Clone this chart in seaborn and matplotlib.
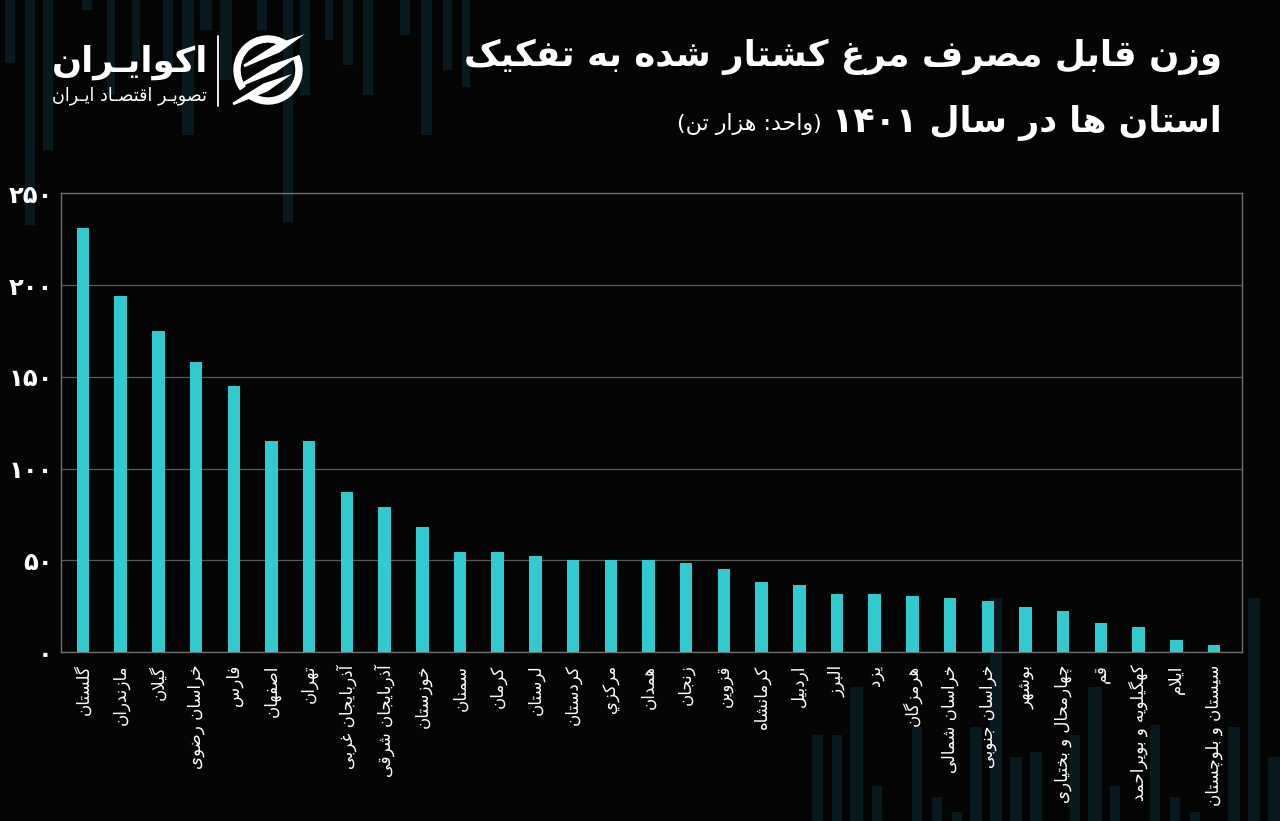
import numpy as np
import pandas as pd
import matplotlib
matplotlib.use("Agg")
import matplotlib.pyplot as plt
import seaborn as sns
from matplotlib.patches import Rectangle, Wedge, Polygon

# ---------------- data ----------------
provinces = ["گلستان", "مازندران", "گیلان", "خراسان رضوی", "فارس", "اصفهان", "تهران",
             "آذربایجان غربی", "آذربایجان شرقی", "خوزستان", "سمنان", "کرمان", "لرستان",
             "کردستان", "مرکزي", "همدان", "زنجان", "قزوین", "کرمانشاه", "اردبیل", "البرز",
             "یزد", "هرمزگان", "خراسان شمالی", "خراسان جنوبی", "بوشهر", "چهارمحال و بختیاری",
             "قم", "کهگیلویه و بویراحمد", "ایلام", "سیستان و بلوچستان"]
values = [231.0, 194.0, 175.0, 158.0, 145.0, 115.3, 115.3, 87.2, 79.3, 68.2, 54.5, 54.5,
          52.3, 50.4, 50.4, 50.4, 48.5, 45.4, 38.4, 36.5, 31.6, 31.6, 30.5, 29.4, 27.6,
          24.6, 22.6, 15.6, 13.6, 6.5, 3.6]
y_ticks = [0, 50, 100, 150, 200, 250]
title_line1 = "وزن قابل مصرف مرغ کشتار شده به تفکیک"
title_line2 = "استان ها در سال ۱۴۰۱"
unit_text = "(واحد: هزار تن)"
brand = "اکوایـران"
brand_sub = "تصویـر اقتصـاد ایـران"

# ---------------- simple Persian shaping (no external libs) ----------------
FORMS = {
    'ء': ('\uFE80', '\uFE80', None, None),
    'آ': ('\uFE81', '\uFE82', None, None),
    'أ': ('\uFE83', '\uFE84', None, None),
    'ؤ': ('\uFE85', '\uFE86', None, None),
    'إ': ('\uFE87', '\uFE88', None, None),
    'ئ': ('\uFE89', '\uFE8A', '\uFE8B', '\uFE8C'),
    'ا': ('\uFE8D', '\uFE8E', None, None),
    'ب': ('\uFE8F', '\uFE90', '\uFE91', '\uFE92'),
    'ة': ('\uFE93', '\uFE94', None, None),
    'ت': ('\uFE95', '\uFE96', '\uFE97', '\uFE98'),
    'ث': ('\uFE99', '\uFE9A', '\uFE9B', '\uFE9C'),
    'ج': ('\uFE9D', '\uFE9E', '\uFE9F', '\uFEA0'),
    'ح': ('\uFEA1', '\uFEA2', '\uFEA3', '\uFEA4'),
    'خ': ('\uFEA5', '\uFEA6', '\uFEA7', '\uFEA8'),
    'د': ('\uFEA9', '\uFEAA', None, None),
    'ذ': ('\uFEAB', '\uFEAC', None, None),
    'ر': ('\uFEAD', '\uFEAE', None, None),
    'ز': ('\uFEAF', '\uFEB0', None, None),
    'س': ('\uFEB1', '\uFEB2', '\uFEB3', '\uFEB4'),
    'ش': ('\uFEB5', '\uFEB6', '\uFEB7', '\uFEB8'),
    'ص': ('\uFEB9', '\uFEBA', '\uFEBB', '\uFEBC'),
    'ض': ('\uFEBD', '\uFEBE', '\uFEBF', '\uFEC0'),
    'ط': ('\uFEC1', '\uFEC2', '\uFEC3', '\uFEC4'),
    'ظ': ('\uFEC5', '\uFEC6', '\uFEC7', '\uFEC8'),
    'ع': ('\uFEC9', '\uFECA', '\uFECB', '\uFECC'),
    'غ': ('\uFECD', '\uFECE', '\uFECF', '\uFED0'),
    'ف': ('\uFED1', '\uFED2', '\uFED3', '\uFED4'),
    'ق': ('\uFED5', '\uFED6', '\uFED7', '\uFED8'),
    'ك': ('\uFED9', '\uFEDA', '\uFEDB', '\uFEDC'),
    'ل': ('\uFEDD', '\uFEDE', '\uFEDF', '\uFEE0'),
    'م': ('\uFEE1', '\uFEE2', '\uFEE3', '\uFEE4'),
    'ن': ('\uFEE5', '\uFEE6', '\uFEE7', '\uFEE8'),
    'ه': ('\uFEE9', '\uFEEA', '\uFEEB', '\uFEEC'),
    'و': ('\uFEED', '\uFEEE', None, None),
    'ى': ('\uFEEF', '\uFEF0', None, None),
    'ي': ('\uFEF1', '\uFEF2', '\uFEF3', '\uFEF4'),
    'پ': ('\uFB56', '\uFB57', '\uFB58', '\uFB59'),
    'چ': ('\uFB7A', '\uFB7B', '\uFB7C', '\uFB7D'),
    'ژ': ('\uFB8A', '\uFB8B', None, None),
    'ک': ('\uFB8E', '\uFB8F', '\uFB90', '\uFB91'),
    'گ': ('\uFB92', '\uFB93', '\uFB94', '\uFB95'),
    'ی': ('\uFBFC', '\uFBFD', '\uFBFE', '\uFBFF'),
}
TATWEEL = '\u0640'
DIGITS = set('0123456789۰۱۲۳۴۵۶۷۸۹')
MIRROR = {'(': ')', ')': '('}


def _dual(c):
    return c == TATWEEL or (c in FORMS and FORMS[c][2] is not None)


def _joinable(c):
    return c == TATWEEL or c in FORMS


def fa(text):
    chars = list(text)
    n = len(chars)
    res = []
    i = 0
    while i < n:
        c = chars[i]
        prev = chars[i - 1] if i > 0 else None
        nxt = chars[i + 1] if i + 1 < n else None
        if c == 'ل' and nxt in ('ا', 'آ'):
            jp = prev is not None and _dual(prev)
            if nxt == 'ا':
                res.append('\uFEFC' if jp else '\uFEFB')
            else:
                res.append('\uFEF6' if jp else '\uFEF5')
            i += 2
            continue
        if c in FORMS:
            iso, fin, ini, med = FORMS[c]
            jp = prev is not None and _dual(prev)
            jn = ini is not None and nxt is not None and _joinable(nxt)
            if jp and jn:
                res.append(med)
            elif jp:
                res.append(fin)
            elif jn:
                res.append(ini)
            else:
                res.append(iso)
        else:
            res.append(c)
        i += 1
    runs = []
    for ch in res:
        isd = ch in DIGITS
        if runs and runs[-1][0] == isd:
            runs[-1][1].append(ch)
        else:
            runs.append([isd, [ch]])
    out = []
    for isd, cs in reversed(runs):
        if isd:
            out.extend(cs)
        else:
            out.extend(MIRROR.get(x, x) for x in reversed(cs))
    return ''.join(out)


def fa_num(v):
    return str(v).translate(str.maketrans('0123456789', '۰۱۲۳۴۵۶۷۸۹'))


# ---------------- style ----------------
BG = '#050505'
BAR = '#31CBCF'
GRID = '#585858'
sns.set_style("dark")
plt.rcParams['font.family'] = ['DejaVu Sans']
plt.rcParams['axes.unicode_minus'] = False

W, H = 1280, 821
fig = plt.figure(figsize=(W / 100, H / 100), dpi=100, facecolor=BG)

# background decoration layer (pixel coordinates, y measured from top)
deco = fig.add_axes([0, 0, 1, 1], zorder=0)
deco.set_xlim(0, W)
deco.set_ylim(H, 0)
deco.axis('off')
deco.set_facecolor(BG)

top_bars = [(5, 10, 63), (25, 10, 225), (43, 10, 150), (82, 10, 10), (107, 8, 95),
            (132, 8, 60), (163, 10, 75), (182, 12, 135), (200, 12, 30), (220, 12, 80),
            (257, 10, 30), (283, 10, 222), (300, 10, 95), (325, 8, 40), (343, 10, 65),
            (363, 10, 95), (400, 10, 35), (421, 11, 135), (443, 9, 70), (462, 8, 87)]
bottom_bars = [(812, 11, 735), (832, 10, 735), (850, 13, 687), (872, 10, 786),
               (912, 10, 727), (932, 10, 797), (952, 10, 812), (970, 12, 727),
               (990, 12, 598), (1010, 12, 757), (1030, 12, 752), (1070, 10, 735),
               (1088, 14, 687), (1110, 10, 786), (1150, 10, 725), (1170, 10, 797),
               (1190, 10, 812), (1228, 12, 727), (1248, 12, 598), (1268, 12, 757)]
for x0, w, y1 in top_bars:
    deco.add_patch(Rectangle((x0, 0), w, y1, color='#08191f', lw=0, zorder=0))
for x0, w, y0 in bottom_bars:
    deco.add_patch(Rectangle((x0, y0), w, H - y0, color='#08191f', lw=0, zorder=0))

# ---------------- main chart ----------------
ax = fig.add_axes([61 / W, 1 - 652 / H, (1242 - 61) / W, (652 - 193.5) / H], zorder=2)
ax.set_facecolor('none')
df = pd.DataFrame({'province': provinces, 'value': values})
sns.barplot(data=df, x='province', y='value', color=BAR, width=0.33, saturation=1,
            edgecolor='none', linewidth=0, ax=ax, zorder=3)
ax.set_xlim(-0.584, len(provinces) - 1 + 0.743)
ax.set_ylim(0, 250)
ax.set_yticks(y_ticks)
ax.set_yticklabels([fa_num(t) for t in y_ticks], fontsize=17.5, fontweight='bold', color='white')
ax.set_xticks(range(len(provinces)))
ax.set_xticklabels([fa(p) for p in provinces], rotation=90, fontsize=12, color='white')
ax.tick_params(axis='x', length=0, pad=9)
ax.tick_params(axis='y', length=0, pad=6)
ax.set_xlabel('')
ax.set_ylabel('')
ax.grid(axis='y', color=GRID, lw=0.9, zorder=0)
ax.grid(axis='x', visible=False)
for s in ax.spines.values():
    s.set_visible(True)
    s.set_color('#6e6e6e')
    s.set_linewidth(1.0)

# ---------------- titles ----------------
renderer = fig.canvas.get_renderer()


def fit_text(x, y, s, target_w, size, **kw):
    t = fig.text(x / W, 1 - y / H, s, fontsize=size, **kw)
    w = t.get_window_extent(renderer).width
    t.set_fontsize(size * target_w / w)
    return t


fit_text(1222, 66, fa(title_line1), 760, 28, color='white', fontweight='bold',
         ha='right', va='baseline')
fit_text(1222, 132, fa(title_line2), 390, 28, color='white', fontweight='bold',
         ha='right', va='baseline')
fit_text(822, 130, fa(unit_text), 146, 14, color='white', ha='right', va='baseline')

# ---------------- logo ----------------
fit_text(208, 72, fa(brand), 156, 26, color='white', fontweight='bold',
         ha='right', va='baseline')
fit_text(207, 100, fa(brand_sub), 155, 12, color='white', ha='right', va='baseline')
deco.plot([218, 218], [36, 106], color='white', lw=1.3, zorder=5)
cx, cy = 268, 70
deco.add_patch(Wedge((cx, cy), 34, 145, 305, width=6, color='white', zorder=5))
deco.add_patch(Wedge((cx, cy), 34, -25, 125, width=6, color='white', zorder=5))
for (x0, y0, x1, y1, t) in [(244, 66, 305, 34, 9), (241, 85, 300, 55, 9), (233, 104, 292, 74, 9)]:
    d = np.array([x1 - x0, y1 - y0], float)
    L = np.hypot(*d)
    u = d / L
    nrm = np.array([-u[1], u[0]])
    p0 = np.array([x0, y0])
    mid = p0 + u * L * 0.55
    pts = [p0 + nrm * t * 0.15, mid + nrm * t / 2, p0 + d, mid - nrm * t / 2, p0 - nrm * t * 0.15]
    deco.add_patch(Polygon(pts, closed=True, color='white', lw=0, zorder=6))

fig.savefig('out.png', dpi=100, facecolor=BG)
